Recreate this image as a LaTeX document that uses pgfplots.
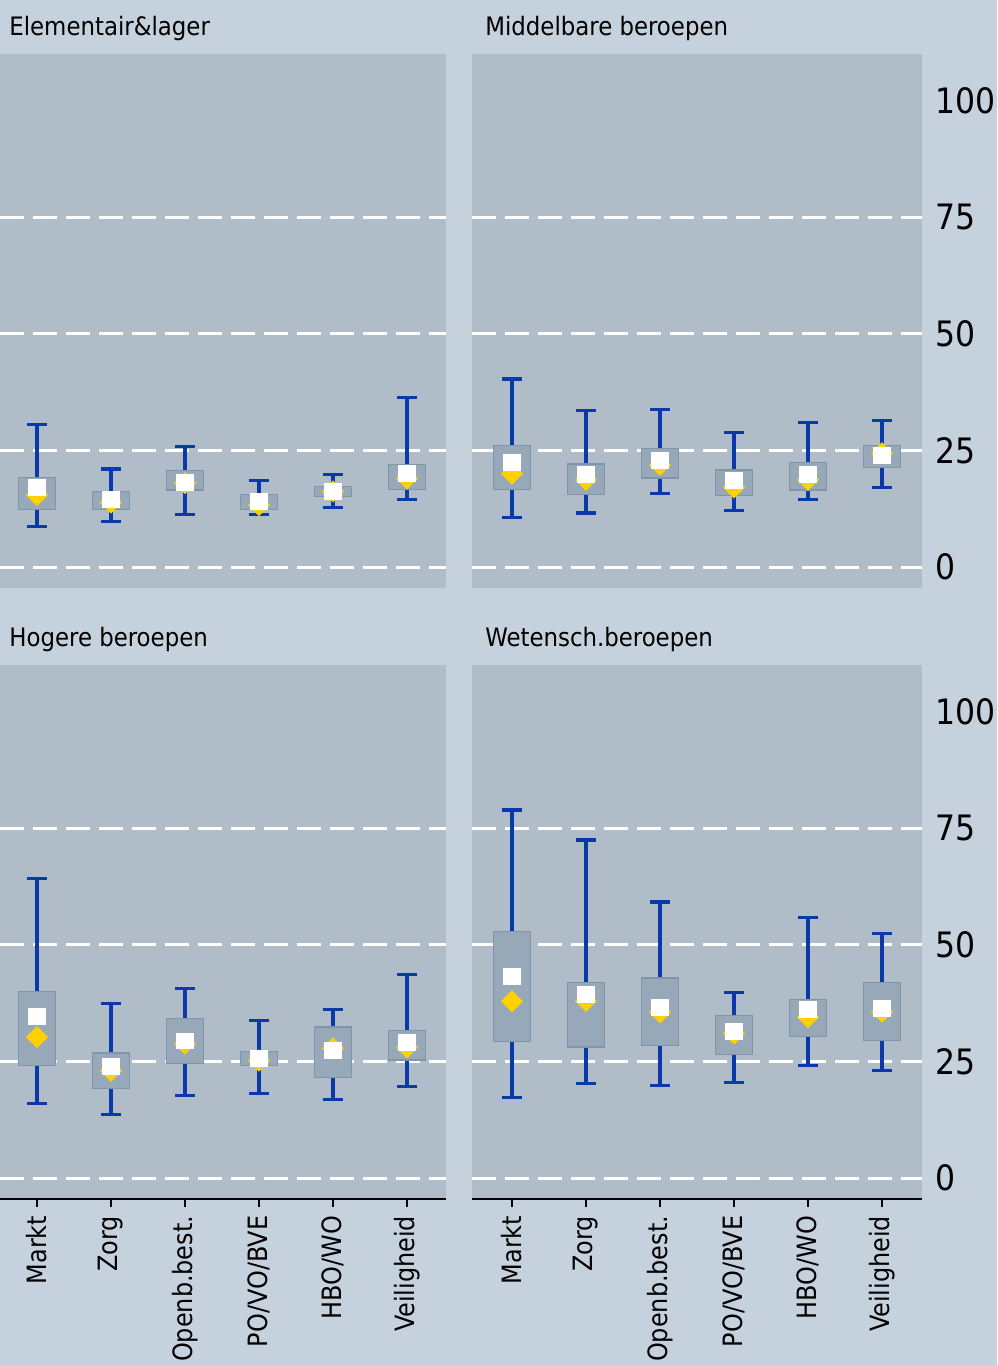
\documentclass[border=0pt]{standalone}
\usepackage{fontspec}
\setmainfont{DejaVu Sans Condensed}
\usepackage{pgfplots}
\usepackage{pgfplotstable}
\usepgfplotslibrary{statistics}
\pgfplotsset{compat=1.18}

\definecolor{outerbg}{RGB}{197,209,221}
\definecolor{plotbg}{RGB}{176,189,201}
\definecolor{boxfill}{RGB}{151,168,184}
\definecolor{boxedge}{RGB}{128,149,170}
\definecolor{whisk}{RGB}{10,58,168}
\definecolor{ylw}{RGB}{255,209,0}

% pos lower-whisker lower-quartile upper-quartile upper-whisker white-marker yellow-marker
\pgfplotstableread{
pos lw lq uq uw med avg
0 8.7 12.4 19.2 30.6 17.1 15.4
1 9.7 12.4 16.2 21.0 14.5 13.8
2 11.3 16.5 20.7 25.9 18.2 18.0
3 11.2 12.4 15.6 18.6 14.0 13.3
4 12.7 15.2 17.3 19.8 16.3 16.2
5 14.4 16.7 22.0 36.3 20.1 19.0
}\tA
\pgfplotstableread{
pos lw lq uq uw med avg
0 10.7 16.7 26.1 40.3 22.4 20.0
1 11.6 15.6 22.1 33.6 19.9 18.7
2 15.7 19.1 25.4 33.8 22.9 21.9
3 12.2 15.4 20.8 28.8 18.5 17.1
4 14.5 16.5 22.4 31.0 19.9 18.7
5 17.0 21.4 26.1 31.4 24.0 24.4
}\tB
\pgfplotstableread{
pos lw lq uq uw med avg
0 15.9 24.1 40.0 64.2 34.6 30.2
1 13.7 19.2 26.8 37.5 24.0 23.0
2 17.7 24.5 34.2 40.7 29.4 28.8
3 18.2 24.1 27.2 33.8 25.7 25.2
4 16.9 21.6 32.4 36.1 27.3 27.8
5 19.6 25.3 31.6 43.7 29.1 28.0
}\tC
\pgfplotstableread{
pos lw lq uq uw med avg
0 17.2 29.3 52.9 78.9 43.3 37.9
1 20.2 28.1 42.0 72.5 39.3 38.0
2 19.8 28.5 42.9 59.2 36.6 35.5
3 20.4 26.5 34.8 39.8 31.4 31.0
4 24.2 30.4 38.3 55.8 36.1 34.5
5 23.1 29.5 42.0 52.5 36.4 35.7
}\tD

\pgfplotsset{
  boxplot/draw direction=y,
  boxplot/box extend=0.5,
  boxplot/whisker extend=0.27,
  boxplot/every box/.style={draw=boxedge, fill=boxfill, line width=0.6pt},
  boxplot/every whisker/.style={draw=whisk, line width=1.6pt},
  boxplot/every median/.style={draw=none},
  panel/.style={
    scale only axis, height=267pt,
    ymin=-4.5, ymax=110,
    axis background/.style={fill=plotbg},
    ytick={0,25,50,75},
    ymajorgrids,
    major grid style={draw=white, line width=1.5pt, dash pattern=on 12pt off 4.5pt},
    axis x line*=bottom, axis y line*=right,
    axis line style={-, draw=none},
    tick align=outside, major tick length=4pt,
    tick style={black, line width=0.8pt},
    ytick style={draw=none},
    xtick={0,...,5},
    clip=false,
    /pgf/number format/assume math mode=true,
  },
  leftp/.style={panel, width=223pt, xmin=-0.5, xmax=5.527,
    yticklabels={}},
  rightp/.style={panel, width=225pt, xmin=-0.54, xmax=5.54,
    extra y ticks={100}, extra y tick style={grid=none},
    yticklabel style={anchor=west, inner sep=2.5pt, font=\fontsize{17.5}{20}\selectfont}},
  topp/.style={xtick=\empty},
  botp/.style={x axis line style={draw=black, line width=1pt},
    xticklabels={Markt,Zorg,Openb.best.,PO/VO/BVE,HBO/WO,Veiligheid},
    xticklabel style={rotate=90, anchor=east, inner sep=4.2pt, font=\fontsize{13.3}{15}\selectfont}},
}

\newcommand{\boxes}[1]{%
  \pgfplotsinvokeforeach{0,...,5}{%
    \pgfplotstablegetelem{##1}{lw}\of{#1}\edef\vlw{\pgfplotsretval}%
    \pgfplotstablegetelem{##1}{lq}\of{#1}\edef\vlq{\pgfplotsretval}%
    \pgfplotstablegetelem{##1}{uq}\of{#1}\edef\vuq{\pgfplotsretval}%
    \pgfplotstablegetelem{##1}{uw}\of{#1}\edef\vuw{\pgfplotsretval}%
    \pgfplotstablegetelem{##1}{med}\of{#1}\edef\vmed{\pgfplotsretval}%
    \edef\doplot{\noexpand\addplot[boxplot prepared={draw position=##1,
      lower whisker=\vlw, lower quartile=\vlq, median=\vmed,
      upper quartile=\vuq, upper whisker=\vuw}] coordinates {};}%
    \doplot
  }
  \addplot[only marks, mark=square*, mark size=3.7pt,
    mark options={rotate=45, fill=ylw, draw=ylw, rounded corners=1.8pt}] table[x=pos,y=avg]{#1};
  \addplot[only marks, mark=square*, mark size=4.3pt,
    mark options={fill=white, draw=white, rounded corners=2.8pt, yscale=0.92}] table[x=pos,y=med]{#1};
}

\begin{document}
\begin{tikzpicture}
\useasboundingbox (0,0) rectangle (498.5pt,-682.5pt);
\fill[outerbg] (0,0) rectangle (498.5pt,-682.5pt);

\begin{axis}[leftp, topp, at={(0pt,-27pt)}, anchor=north west]
\boxes{\tA}
\end{axis}
\begin{axis}[rightp, topp, at={(236pt,-27pt)}, anchor=north west]
\boxes{\tB}
\end{axis}
\begin{axis}[leftp, botp, at={(0pt,-332.5pt)}, anchor=north west]
\boxes{\tC}
\end{axis}
\begin{axis}[rightp, botp, at={(236pt,-332.5pt)}, anchor=north west]
\boxes{\tD}
\end{axis}

\begin{scope}[every node/.style={anchor=base west, inner sep=0pt, font=\fontsize{12.7}{15}\selectfont}]
\node at (4.5pt,-17.8pt) {Elementair\&lager};
\node at (242.5pt,-17.8pt) {Middelbare beroepen};
\node at (4.5pt,-323.3pt) {Hogere beroepen};
\node at (242.5pt,-323.3pt) {Wetensch.beroepen};
\end{scope}
\end{tikzpicture}
\end{document}
